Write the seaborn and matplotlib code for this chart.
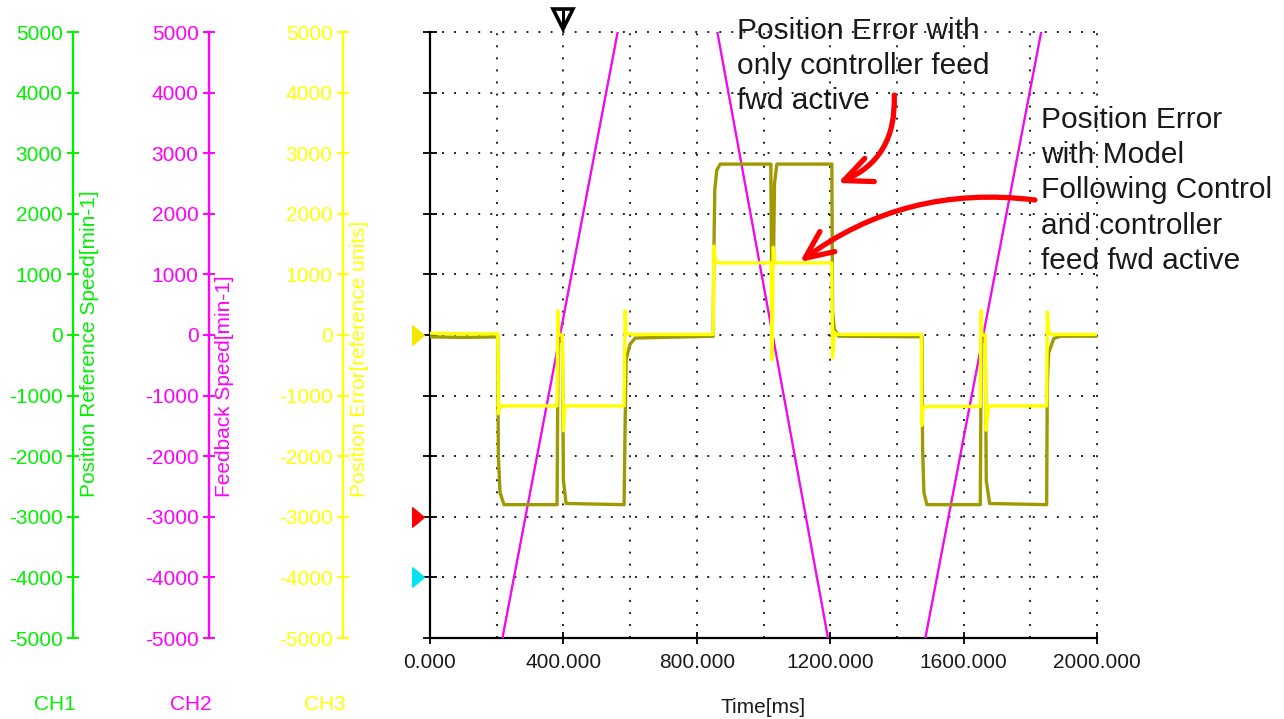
import matplotlib
matplotlib.use("Agg")
import matplotlib.pyplot as plt
from matplotlib.path import Path
import pandas as pd
import seaborn as sns

# ---------------- data ----------------
# CH1 / CH2 : speed profiles [min-1] (run off the +-5000 scale)
ref_speed_t = [0, 200, 580, 845, 1210, 1468, 1850, 2000]
ref_speed_v = [-5500, -5500, 5500, 5500, -5500, -5500, 5500, 5500]
fb_speed_t = [0, 200, 580, 845, 1210, 1468, 1850, 2000]
fb_speed_v = [-5500, -5500, 5500, 5500, -5500, -5500, 5500, 5500]

# Position error, only controller feed-forward active (olive trace)
err_ff_t = [0, 100, 203, 205, 210, 222, 381, 384, 397, 400, 408, 582, 585, 588, 600, 615,
            849, 851, 854, 860, 870, 1022, 1024, 1030, 1033, 1040, 1205, 1207, 1212, 1225,
            1475, 1477, 1481, 1490, 1650, 1653, 1665, 1668, 1678, 1849, 1851, 1855, 1870, 1890, 2000]
err_ff_v = [-30, -40, -30, -2000, -2600, -2800, -2800, -100, -100, -2400, -2780, -2800, -1500, -400, -150, -50,
            -20, 1300, 2400, 2720, 2820, 2820, 1200, 1200, 2500, 2820, 2820, 400, 100, -20,
            -30, -1850, -2600, -2800, -2800, -100, -100, -2400, -2780, -2800, -800, -300, -60, -20, -20]

# Position error, model following control + feed-forward (yellow trace)
err_mfc_t = [0, 100, 203, 205, 210, 381, 383, 386, 397, 400, 405, 582, 585, 588, 606,
             849, 851, 856, 866, 1023, 1026, 1029, 1033, 1040, 1205, 1207, 1212, 1220,
             1473, 1475, 1478, 1485, 1650, 1652, 1655, 1665, 1667, 1675, 1849, 1851, 1855, 1865, 2000]
err_mfc_v = [30, 20, 20, -1300, -1170, -1170, 400, 0, 0, -1580, -1170, -1170, 400, 30, 10,
             10, 1470, 1220, 1190, 1190, -410, 1450, 1230, 1190, 1190, -380, 50, 10,
             10, -1490, -1230, -1180, -1180, 400, 0, 0, -1570, -1170, -1170, 380, 30, 10, 10]

channels = ["CH1", "CH2", "CH3"]
axis_titles = ["Position Reference Speed[min-1]", "Feedback Speed[min-1]",
               "Position Error[reference units]"]
y_ticks = [-5000, -4000, -3000, -2000, -1000, 0, 1000, 2000, 3000, 4000, 5000]
x_ticks = [0, 400, 800, 1200, 1600, 2000]
x_tick_labels = ["0.000", "400.000", "800.000", "1200.000", "1600.000", "2000.000"]
x_grid = [200, 400, 600, 800, 1000, 1200, 1400, 1600, 1800, 2000]

# ---------------- style ----------------
sns.set_style("white")
plt.rcParams['font.family'] = ['Liberation Sans', 'DejaVu Sans']

GREEN = "#00f000"
MAGENTA = "#ff00ff"
YELLOW = "#ffff00"
OLIVE = "#9e9a00"
RED = "#ff0000"
CYAN = "#00e5f0"
TEXT = "#1a1a1a"

W, H = 1284, 719
fig = plt.figure(figsize=(W / 100, H / 100), dpi=100)
fig.patch.set_facecolor("white")

ax_left, ax_top, ax_right, ax_bot = 430, 32, 1097, 638
b = (H - ax_bot) / H
h = (ax_bot - ax_top) / H
ax = fig.add_axes([ax_left / W, b, (ax_right - ax_left) / W, h])
ax.set_facecolor("white")

df_ref = pd.DataFrame({"t": ref_speed_t, "v": ref_speed_v})
df_fb = pd.DataFrame({"t": fb_speed_t, "v": fb_speed_v})
df_ff = pd.DataFrame({"t": err_ff_t, "v": err_ff_v})
df_mfc = pd.DataFrame({"t": err_mfc_t, "v": err_mfc_v})

sns.lineplot(data=df_ref, x="t", y="v", ax=ax, color=GREEN, lw=1.2,
             estimator=None, sort=False, zorder=3)
sns.lineplot(data=df_fb, x="t", y="v", ax=ax, color=MAGENTA, lw=1.6,
             estimator=None, sort=False, zorder=4)
sns.lineplot(data=df_ff, x="t", y="v", ax=ax, color=OLIVE, lw=2.4,
             estimator=None, sort=False, zorder=5)
sns.lineplot(data=df_mfc, x="t", y="v", ax=ax, color=YELLOW, lw=2.4,
             estimator=None, sort=False, zorder=6)

ax.set_xlim(0, 2000)
ax.set_ylim(-5000, 5000)
ax.set_xticks(x_ticks)
ax.set_xticklabels(x_tick_labels)
ax.set_xticks(x_grid, minor=True)
ax.set_yticks(y_ticks)
ax.set_yticklabels([])
ax.tick_params(axis="x", which="major", direction="inout", length=9, width=1.3,
               color="black", labelsize=15, labelcolor=TEXT, pad=6, bottom=True)
ax.tick_params(axis="x", which="minor", length=0)
ax.tick_params(axis="y", which="major", direction="inout", length=10, width=1.3,
               color="black", left=True)
for s in ["top", "right"]:
    ax.spines[s].set_visible(False)
for s in ["left", "bottom"]:
    ax.spines[s].set_color("black")
    ax.spines[s].set_linewidth(1.6)
ax.xaxis.grid(True, which="both", color="#222222", lw=1.4, ls=(0, (1, 5.2)))
ax.yaxis.grid(True, which="major", color="#222222", lw=1.4, ls=(0, (1, 5.2)))
for gl in ax.get_xgridlines() + ax.get_ygridlines():
    gl.set_clip_on(False)
ax.set_axisbelow(True)
ax.set_xlabel("Time[ms]", fontsize=15, color=TEXT, labelpad=19)
ax.set_ylabel("")

# ---------------- side channel axes ----------------
side_x = [73, 209, 343]
side_colors = [GREEN, MAGENTA, YELLOW]
title_x = [90, 225, 360]
for xpos, col, ttl, tx, ch in zip(side_x, side_colors, axis_titles, title_x, channels):
    sax = fig.add_axes([xpos / W, b, 0.0001, h])
    sax.patch.set_visible(False)
    sax.set_ylim(-5000, 5000)
    sax.set_yticks(y_ticks)
    sax.set_yticklabels([str(v) for v in y_ticks])
    sax.set_xticks([])
    for s in ["top", "right", "bottom"]:
        sax.spines[s].set_visible(False)
    sax.spines["left"].set_color(col)
    sax.spines["left"].set_linewidth(1.7)
    sax.tick_params(axis="y", direction="inout", length=9, width=1.4, color=col,
                    labelcolor=col, labelsize=15, pad=3, left=True)
    fig.text(tx / W, 1 - 497 / H, ttl, rotation=90, ha="center", va="bottom",
             color=col, fontsize=15)
    fig.text((xpos - 18) / W, 1 - 704 / H, ch, ha="center", va="center",
             color=col, fontsize=15)

# ---------------- channel offset markers ----------------
tri = Path([(-0.6, -1), (-0.6, 1), (0.6, 0), (-0.6, -1)],
           [Path.MOVETO, Path.LINETO, Path.LINETO, Path.CLOSEPOLY])
ytrans = ax.get_yaxis_transform()
for yv, col in [(0, "#f5e800"), (-3000, RED), (-4000, CYAN)]:
    ax.plot([-0.018], [yv], marker=tri, markersize=14, color=col, mec=col,
            transform=ytrans, clip_on=False, zorder=10)

# trigger marker on top
xtrans = ax.get_xaxis_transform()
ax.plot([400], [1.021], marker="v", markersize=15, mfc="white", mec="black",
        mew=2.6, transform=xtrans, clip_on=False, zorder=10)
ax.plot([400, 400], [1.006, 1.034], color="black", lw=2.2, transform=xtrans,
        clip_on=False, zorder=11)

# ---------------- annotations ----------------
ax.text(921, 5250, "Position Error with\nonly controller feed\nfwd active",
        fontsize=21.5, color=TEXT, ha="left", va="top", linespacing=1.33, zorder=12)
ax.text(1832, 3780, "Position Error\nwith Model\nFollowing Control\nand controller\nfeed fwd active",
        fontsize=21.5, color=TEXT, ha="left", va="top", linespacing=1.33, zorder=12)

ax.annotate("", xy=(1223, 2508), xytext=(1392, 3960),
            arrowprops=dict(arrowstyle="->,head_length=2.0,head_width=0.9",
                            connectionstyle="arc3,rad=-0.35", color=RED, lw=3.8,
                            shrinkA=0, shrinkB=0), zorder=13)
ax.annotate("", xy=(1109, 1205), xytext=(1814, 2228),
            arrowprops=dict(arrowstyle="->,head_length=2.0,head_width=0.9",
                            connectionstyle="arc3,rad=0.2", color=RED, lw=3.8,
                            shrinkA=0, shrinkB=0), zorder=13)

fig.savefig("out.png", dpi=100, facecolor="white")
